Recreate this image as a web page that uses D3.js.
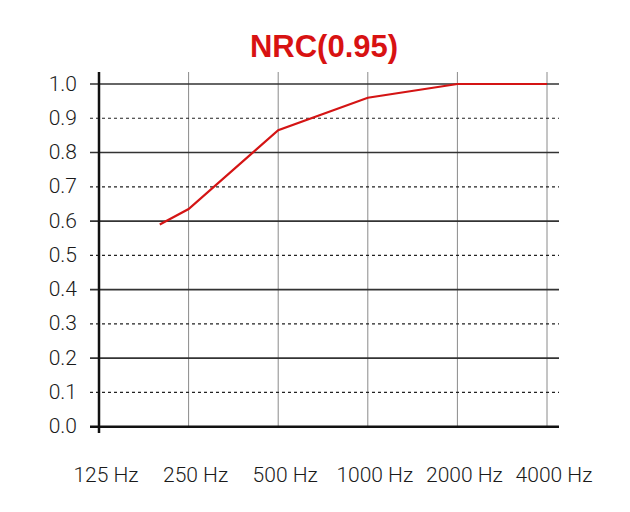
<!DOCTYPE html>
<html>
<head>
<meta charset="utf-8">
<script src="https://cdn.jsdelivr.net/npm/d3@7"></script>
<style>
  body { margin: 0; background: #fff; }
  svg text { font-family: Roboto, "Liberation Sans", sans-serif; }
</style>
</head>
<body>
<div id="chart"></div>
<script>
// octave band labels and measured absorption
const bands = [125, 250, 500, 1000, 2000, 4000];
const bandLabels = ["125 Hz", "250 Hz", "500 Hz", "1000 Hz", "2000 Hz", "4000 Hz"];
const freqs = [200, 250, 500, 1000, 2000, 4000];
const absorption = [0.59, 0.635, 0.865, 0.96, 1.0, 1.0];
const yTicks = [0, 0.1, 0.2, 0.3, 0.4, 0.5, 0.6, 0.7, 0.8, 0.9, 1.0];
const title = "NRC(0.95)";

const width = 630, height = 512;

const svg = d3.select("#chart")
    .append("svg")
    .attr("width", width)
    .attr("height", height);

const x = d3.scaleLog()
    .base(2)
    .domain([125, 4000])
    .range([99, 547]);

const y = d3.scaleLinear()
    .domain([0, 1])
    .range([426.7, 84]);

// title
svg.append("text")
    .attr("x", 324)
    .attr("y", 57)
    .attr("text-anchor", "middle")
    .style("font-family", "'Liberation Sans', Arial, sans-serif")
    .style("font-weight", "bold")
    .style("font-size", "31px")
    .style("fill", "#d81212")
    .text(title);

// vertical grid
svg.selectAll(".vgrid")
    .data(bands.slice(1))
    .join("line")
    .attr("class", "vgrid")
    .attr("x1", d => x(d))
    .attr("x2", d => x(d))
    .attr("y1", 72)
    .attr("y2", y(0))
    .attr("stroke", "#8a8a8a")
    .attr("stroke-width", 1);

// horizontal grid: solid on even tenths, dotted on odd
svg.selectAll(".hgrid")
    .data(yTicks.slice(1))
    .join("line")
    .attr("class", "hgrid")
    .attr("x1", 90)
    .attr("x2", 559)
    .attr("y1", d => y(d))
    .attr("y2", d => y(d))
    .attr("stroke", (d, i) => i % 2 == 1 ? "#333" : "#222")
    .attr("stroke-width", (d, i) => i % 2 == 1 ? 1.6 : 1.2)
    .attr("stroke-dasharray", (d, i) => i % 2 == 1 ? null : "3,3");

// baseline and y axis
svg.append("line")
    .attr("x1", 90).attr("x2", 559)
    .attr("y1", y(0)).attr("y2", y(0))
    .attr("stroke", "#111")
    .attr("stroke-width", 2.5);

svg.append("line")
    .attr("x1", x(125)).attr("x2", x(125))
    .attr("y1", 72).attr("y2", 433)
    .attr("stroke", "#111")
    .attr("stroke-width", 2.5);

// y labels
svg.selectAll(".ylab")
    .data(yTicks)
    .join("text")
    .attr("class", "ylab")
    .attr("x", 77)
    .attr("y", d => y(d) + 1)
    .attr("text-anchor", "end")
    .attr("dominant-baseline", "middle")
    .style("font-size", "21px")
    .style("font-weight", 300)
    .style("fill", "#1a1a1a")
    .text(d => d3.format(".1f")(d));

// x labels
svg.selectAll(".xlab")
    .data(bands)
    .join("text")
    .attr("class", "xlab")
    .attr("x", d => x(d) + 7)
    .attr("y", 482)
    .attr("text-anchor", "middle")
    .style("font-size", "21px")
    .style("font-weight", 300)
    .style("fill", "#1a1a1a")
    .text((d, i) => bandLabels[i]);

// absorption curve
const line = d3.line()
    .x(d => x(d[0]))
    .y(d => y(d[1]));

svg.append("path")
    .datum(d3.zip(freqs, absorption))
    .attr("fill", "none")
    .attr("stroke", "#d41414")
    .attr("stroke-width", 2.2)
    .attr("d", line);
</script>
</body>
</html>
